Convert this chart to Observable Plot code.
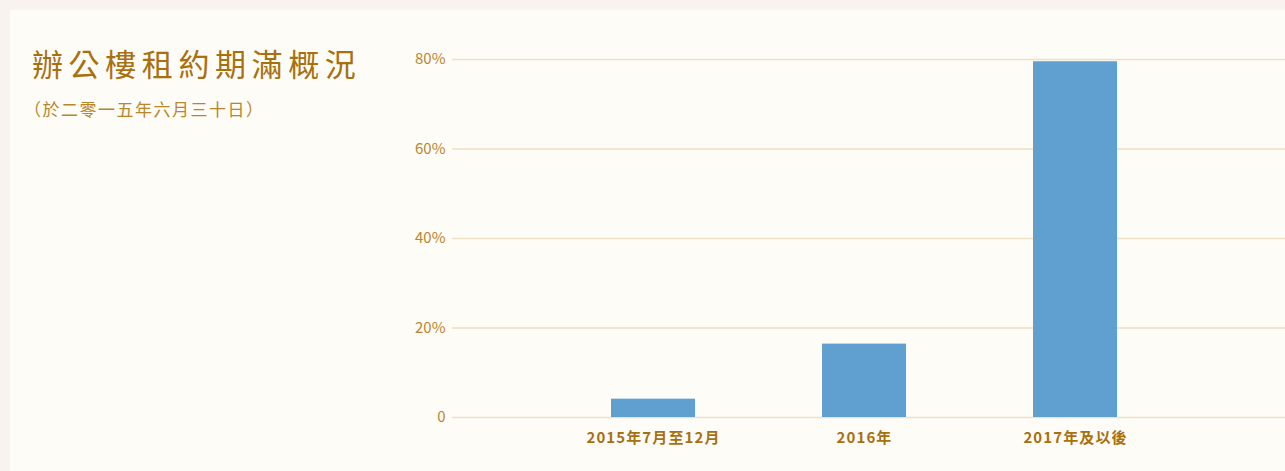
<!DOCTYPE html>
<html>
<head>
<meta charset="utf-8">
<script src="https://cdn.jsdelivr.net/npm/d3@7"></script>
<script src="https://cdn.jsdelivr.net/npm/@observablehq/plot@0.6"></script>
<style>
  html, body { margin: 0; padding: 0; }
  body { background: #f8f3ec; width: 1285px; height: 471px; overflow: hidden; position: relative;
         font-family: "Noto Sans CJK TC", "Noto Sans", sans-serif; }
  #panel { position: absolute; left: 10px; top: 10px; width: 1275px; height: 461px; background: #fdfcf7; }
  #title { position: absolute; left: 22px; top: 37px; font-size: 31px; line-height: 1; letter-spacing: 5.6px;
           color: #a8700f; white-space: nowrap; }
  #subtitle { position: absolute; left: 14px; top: 90px; font-size: 17px; line-height: 1; letter-spacing: 1.5px;
              color: #b8862b; white-space: nowrap; }
  #chart { position: absolute; left: 0; top: 0; }
</style>
</head>
<body>
<div id="panel">
  <div id="title">辦公樓租約期滿概況</div>
  <div id="subtitle">（於二零一五年六月三十日）</div>
  <div id="chart"></div>
</div>
<script>
const categories = ["2015年7月至12月", "2016年", "2017年及以後"];
const shares = [0.041, 0.164, 0.795];
const yTicks = [0, 0.2, 0.4, 0.6, 0.8];
const yTickLabels = ["0", "20%", "40%", "60%", "80%"];

const data = categories.map((c, i) => ({category: c, share: shares[i]}));

const chart = Plot.plot({
  width: 1275,
  height: 447,
  marginLeft: 442,
  marginRight: 0,
  marginTop: 49,
  marginBottom: 40,
  style: {background: "transparent", fontFamily: "'Noto Sans CJK TC', 'Noto Sans', sans-serif"},
  x: {domain: categories, paddingInner: 0.6, paddingOuter: 0.772, align: 0.488, label: null},
  y: {domain: [0, 0.8], label: null},
  marks: [
    Plot.ruleY(yTicks, {stroke: "#eedfc5", strokeWidth: 1.5}),
    Plot.barY(data, {x: "category", y: "share", fill: "#60a0d0"}),
    Plot.axisY(yTicks, {
      tickSize: 0, tickPadding: 7, fontSize: 15, fill: "#b8862b", color: "#b8862b",
      tickFormat: (d) => yTickLabels[yTicks.indexOf(d)]
    }),
    Plot.axisX({
      tickSize: 0, tickPadding: 15, fontSize: 15, fontWeight: "bold", fill: "#a8700f", color: "#a8700f"
    })
  ]
});
d3.select(chart).selectAll('g[aria-label="x-axis tick label"] text')
  .style("letter-spacing", "1.1px");
document.getElementById("chart").appendChild(chart);
</script>
</body>
</html>
